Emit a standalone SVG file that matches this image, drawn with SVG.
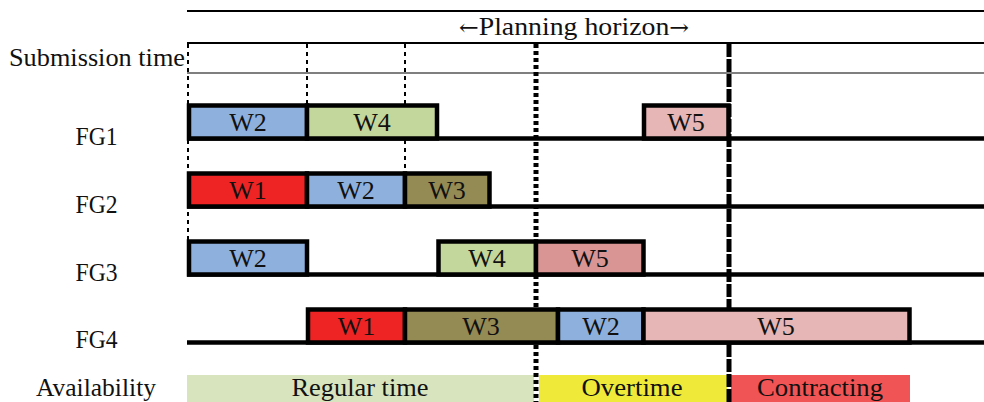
<svg xmlns="http://www.w3.org/2000/svg" width="984" height="402" viewBox="0 0 984 402">
<style>
text{font-family:"Liberation Serif","Times New Roman",serif;font-size:26px;fill:#111;}
.c{text-anchor:middle;}
.ar{font-family:"DejaVu Serif",serif;font-size:22px;}
.box{stroke:#000;stroke-width:4.5;}
.row{stroke:#000;stroke-width:4.5;fill:none;}
.dt{stroke:#000;stroke-width:2;stroke-dasharray:4 4;fill:none;}
.dot{stroke:#000;stroke-width:5;stroke-dasharray:4 3;fill:none;}
.dash{stroke:#000;stroke-width:5;stroke-dasharray:13 2;fill:none;}
.blue{fill:#8EB0DC;}.green{fill:#C3D69B;}.red{fill:#EE2424;}.olive{fill:#948A54;}.pink{fill:#E5B6B5;}.rose{fill:#D99594;}
</style>
<rect width="984" height="402" fill="#fff"/>
<g id="header">
<line x1="187" y1="11" x2="984" y2="11" stroke="#000" stroke-width="2"/>
<line x1="187" y1="43" x2="984" y2="43" stroke="#000" stroke-width="2"/>
<line x1="187" y1="73" x2="984" y2="73" stroke="#000" stroke-width="1.2"/>
<text x="574" y="35" class="c" textLength="230" lengthAdjust="spacingAndGlyphs"><tspan class="ar">←</tspan>Planning horizon<tspan class="ar">→</tspan></text>
<text x="9" y="66" textLength="176" lengthAdjust="spacingAndGlyphs">Submission time</text>
</g>
<g id="labels">
<text x="96.5" y="145" class="c" textLength="42" lengthAdjust="spacingAndGlyphs">FG1</text>
<text x="96.5" y="213" class="c" textLength="42" lengthAdjust="spacingAndGlyphs">FG2</text>
<text x="96.5" y="280.5" class="c" textLength="42" lengthAdjust="spacingAndGlyphs">FG3</text>
<text x="96.5" y="348" class="c" textLength="42" lengthAdjust="spacingAndGlyphs">FG4</text>
<text x="96" y="396" class="c" textLength="120" lengthAdjust="spacingAndGlyphs">Availability</text>
</g>
<g id="availability">
<rect x="187" y="375" width="347" height="27" fill="#D7E4BD"/>
<rect x="539" y="375" width="188" height="27" fill="#EFEA3A"/>
<rect x="731" y="375" width="179" height="27" fill="#F15454"/>
<text x="360" y="396" class="c" textLength="137" lengthAdjust="spacingAndGlyphs">Regular time</text>
<text x="632" y="396" class="c" textLength="101" lengthAdjust="spacingAndGlyphs">Overtime</text>
<text x="820" y="396" class="c" textLength="126" lengthAdjust="spacingAndGlyphs">Contracting</text>
</g>
<g id="connectors">
<line class="row" x1="187" y1="138.5" x2="984" y2="138.5"/>
<line class="row" x1="187" y1="206.5" x2="984" y2="206.5"/>
<line class="row" x1="187" y1="274.5" x2="984" y2="274.5"/>
<line class="row" x1="187" y1="342.5" x2="984" y2="342.5"/>
<line class="dt" x1="188" y1="44" x2="188" y2="240"/>
<line class="dt" x1="307" y1="44" x2="307" y2="104"/>
<line class="dt" x1="405" y1="44" x2="405" y2="172"/>
<line class="dot" x1="536" y1="44" x2="536" y2="402"/>
<line class="dash" x1="729" y1="44" x2="729" y2="402"/>
</g>
<g id="FG1">
<rect class="box blue" x="189" y="105.5" width="118" height="33"/>
<rect class="box green" x="307" y="105.5" width="130" height="33"/>
<rect class="box pink" x="644" y="105.5" width="84.5" height="33"/>
<text x="248" y="131" class="c">W2</text>
<text x="372" y="131" class="c">W4</text>
<text x="686" y="131" class="c">W5</text>
</g>
<g id="FG2">
<rect class="box red" x="189" y="173.5" width="118" height="33"/>
<rect class="box blue" x="307" y="173.5" width="98" height="33"/>
<rect class="box olive" x="405" y="173.5" width="84.5" height="33"/>
<text x="248" y="199" class="c">W1</text>
<text x="356" y="199" class="c">W2</text>
<text x="447" y="199" class="c">W3</text>
</g>
<g id="FG3">
<rect class="box blue" x="189" y="241.5" width="118" height="33"/>
<rect class="box green" x="438.5" y="241.5" width="97.5" height="33"/>
<rect class="box rose" x="536" y="241.5" width="107.5" height="33"/>
<text x="248" y="267" class="c">W2</text>
<text x="487" y="267" class="c">W4</text>
<text x="590" y="267" class="c">W5</text>
</g>
<g id="FG4">
<rect class="box red" x="308" y="309.5" width="97" height="33"/>
<rect class="box olive" x="405" y="309.5" width="153" height="33"/>
<rect class="box blue" x="558" y="309.5" width="85.5" height="33"/>
<rect class="box pink" x="643.5" y="309.5" width="266" height="33"/>
<text x="356.5" y="335" class="c">W1</text>
<text x="481" y="335" class="c">W3</text>
<text x="601" y="335" class="c">W2</text>
<text x="776" y="335" class="c">W5</text>
</g>
</svg>
